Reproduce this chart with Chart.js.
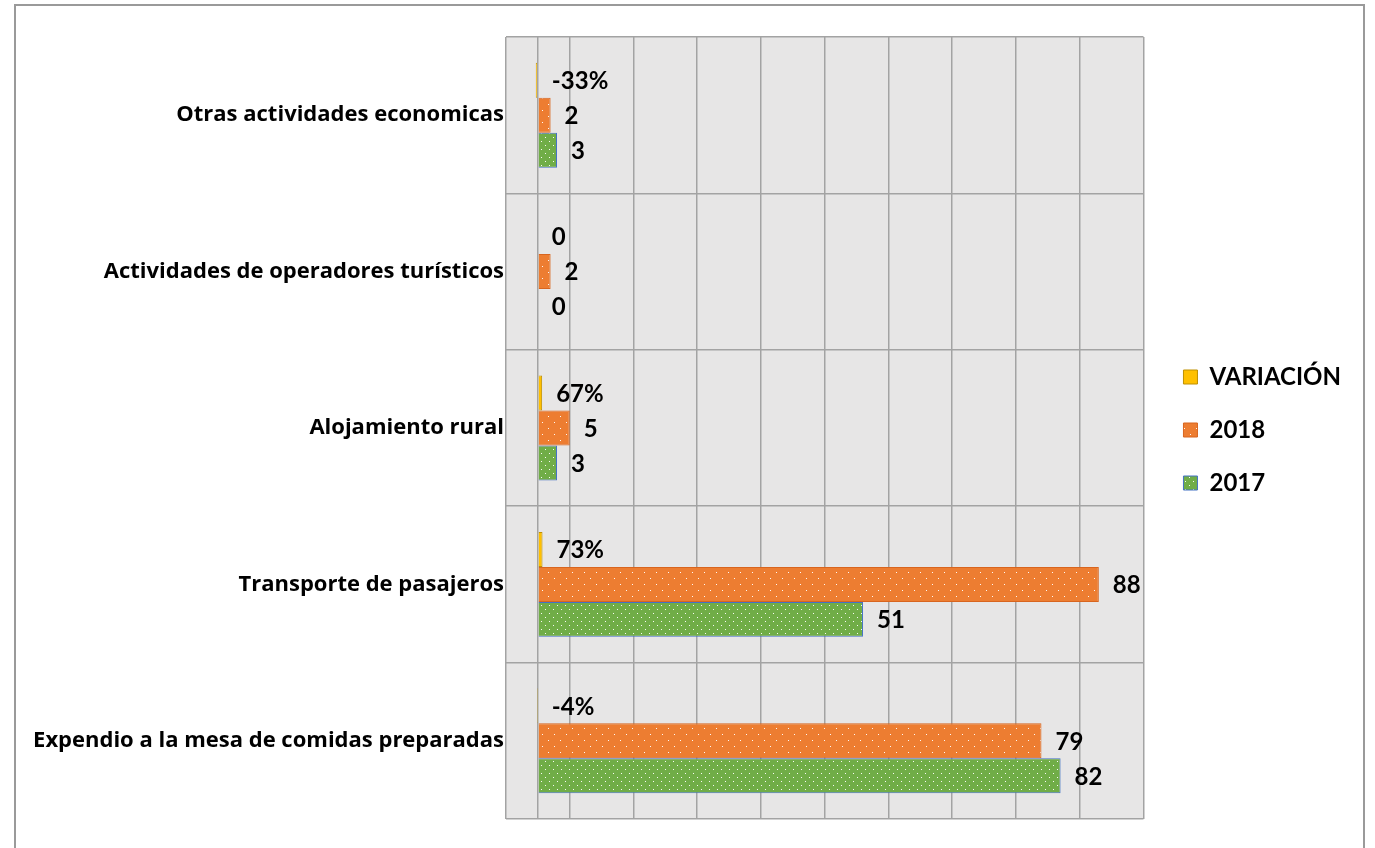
<!DOCTYPE html>
<html>
<head>
<meta charset="utf-8">
<script src="https://cdn.jsdelivr.net/npm/chart.js@4/dist/chart.umd.min.js"></script>
<style>
  html, body { margin: 0; padding: 0; background: #ffffff; }
  #wrap { width: 1375px; height: 848px; position: relative; }
</style>
</head>
<body>
<div id="wrap"><canvas id="c" width="1375" height="848"></canvas></div>
<script>
// ---- data ----
const categories = [
  'Otras actividades economicas',
  'Actividades de operadores turísticos',
  'Alojamiento rural',
  'Transporte de pasajeros',
  'Expendio a la mesa de comidas preparadas'
];
const seriesNames = ['VARIACIÓN', '2018', '2017'];
const variacion = [-0.33, 0, 0.67, 0.73, -0.04];
const values2018 = [2, 2, 5, 88, 79];
const values2017 = [3, 0, 3, 51, 82];
const xTickValues = [-5, 0, 5, 15, 25, 35, 45, 55, 65, 75, 85, 95];

// ---- styling helpers ----
const FONT = "Lato, 'Open Sans', 'DejaVu Sans', sans-serif";
const CAT_FONT = "'Open Sans', Lato, 'DejaVu Sans', sans-serif";
function dotPattern(color, size, dots) {
  const c = document.createElement('canvas');
  c.width = size; c.height = size;
  const g = c.getContext('2d');
  g.fillStyle = color;
  g.fillRect(0, 0, size, size);
  g.fillStyle = 'rgba(255,255,255,0.95)';
  dots.forEach(d => g.fillRect(d[0], d[1], 1, 1));
  return g.createPattern(c, 'repeat');
}
const orangePat = dotPattern('#ED7D31', 12, [[2, 2], [8, 8]]);
const greenPat = dotPattern('#70AD47', 8, [[1, 1], [5, 5]]);

function fmtLabel(dsIndex, v) {
  if (dsIndex === 0) return v === 0 ? '0' : Math.round(v * 100) + '%';
  return String(v);
}

const frameAndBg = {
  id: 'frameAndBg',
  beforeDraw(chart) {
    const ctx = chart.ctx;
    ctx.save();
    ctx.fillStyle = '#ffffff';
    ctx.fillRect(0, 0, chart.width, chart.height);
    const a = chart.chartArea;
    ctx.fillStyle = '#E7E6E6';
    ctx.fillRect(a.left, a.top, a.right - a.left, a.bottom - a.top);
    ctx.strokeStyle = '#9a9a9a';
    ctx.lineWidth = 2;
    ctx.strokeRect(15, 5, 1349, 900);
    ctx.restore();
  }
};

const legendShift = {
  id: 'legendShift',
  afterLayout(chart) {
    const lg = chart.legend;
    if (lg) { lg.left += 11; lg.right += 11; lg.top += 2; lg.bottom += 2; }
  }
};

const valueLabels = {
  id: 'valueLabels',
  afterDatasetsDraw(chart) {
    const ctx = chart.ctx;
    const xs = chart.scales.x;
    ctx.save();
    ctx.font = "bold 24px " + FONT;
    ctx.fillStyle = '#000000';
    ctx.textAlign = 'left';
    ctx.textBaseline = 'middle';
    chart.data.datasets.forEach((ds, di) => {
      const meta = chart.getDatasetMeta(di);
      meta.data.forEach((bar, i) => {
        const v = ds.data[i];
        const x = xs.getPixelForValue(Math.max(v, 0)) + 14;
        ctx.fillText(fmtLabel(di, v), x, bar.y + 1);
      });
    });
    ctx.restore();
  }
};

const gridColor = '#a3a3a3';

new Chart(document.getElementById('c'), {
  type: 'bar',
  data: {
    labels: categories,
    datasets: [
      { label: seriesNames[0], data: variacion, backgroundColor: '#FFC000', borderColor: '#BF9000', borderWidth: 1 },
      { label: seriesNames[1], data: values2018, backgroundColor: orangePat, borderColor: '#D8651F', borderWidth: 1 },
      { label: seriesNames[2], data: values2017, backgroundColor: greenPat, borderColor: '#4472C4', borderWidth: 1 }
    ]
  },
  options: {
    indexAxis: 'y',
    responsive: false,
    animation: false,
    devicePixelRatio: 1,
    barPercentage: 1,
    categoryPercentage: 0.671,
    layout: { padding: { top: 37, bottom: 29, left: 0, right: 35 } },
    scales: {
      x: {
        min: -5, max: 95,
        afterBuildTicks(axis) { axis.ticks = xTickValues.map(v => ({ value: v })); },
        ticks: { display: false },
        grid: { color: gridColor, lineWidth: 1.5, drawTicks: false },
        border: { display: false }
      },
      y: {
        afterFit(axis) { axis.width = 506; },
        ticks: {
          color: '#000000',
          padding: 2,
          font: { family: CAT_FONT, size: 22, weight: 'bold' }
        },
        grid: { color: gridColor, lineWidth: 1.5, drawTicks: false, offset: true },
        border: { display: false }
      }
    },
    plugins: {
      tooltip: { enabled: false },
      legend: {
        position: 'right',
        labels: {
          boxWidth: 14, boxHeight: 14, padding: 29, color: '#000000',
          font: { family: FONT, size: 24, weight: 'bold' }
        }
      }
    }
  },
  plugins: [frameAndBg, legendShift, valueLabels]
});
</script>
</body>
</html>
